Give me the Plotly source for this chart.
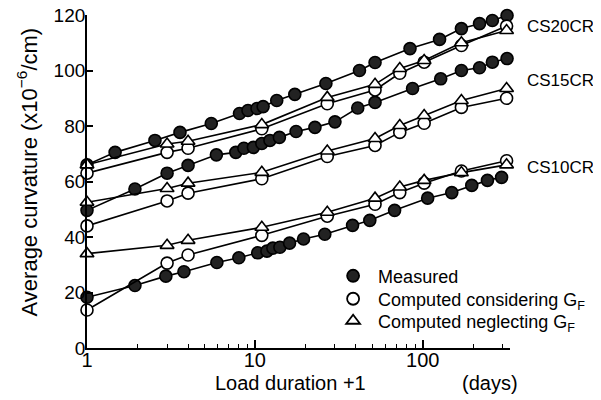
import plotly.graph_objects as go

# ---- data (time = load duration + 1, days) ----
t_comp = [1, 3, 4, 11, 27, 52, 73, 102, 170, 316]

# CS20CR
t_m20 = [1, 1.47, 2.54, 3.58, 5.5, 8.1, 9.1, 10.3, 11.2, 13.5, 17.3, 26.5, 42, 52, 84, 126, 170, 218, 260, 318]
m20 = [66, 70.5, 74.8, 77.7, 80.9, 84.5, 85.6, 86.3, 87, 89.2, 91.4, 95.3, 100, 102.9, 107.9, 111.2, 115.1, 116.9, 118, 119.8]
c20 = [63, 70.5, 72, 79, 88, 93, 99, 103, 109, 116]
n20 = [66, 73.5, 74.5, 80.5, 90.3, 95, 100.7, 103.6, 110, 114.4]

# CS15CR
t_m15 = [1, 1.93, 3.0, 4.0, 5.9, 7.7, 8.6, 9.8, 11.0, 12.3, 14.0, 17.6, 22.8, 30.0, 41.0, 52, 87, 128, 170, 218, 260, 318]
m15 = [49.6, 57.3, 63, 65.8, 69.6, 70.5, 72, 72.3, 73.7, 74.8, 75.9, 78, 79.5, 81.5, 86.5, 88.5, 93.5, 97, 100, 101, 103, 104.3]
c15 = [44, 53, 55.8, 61, 69, 73, 77.7, 81, 86.7, 90]
n15 = [52.5, 57.5, 59.4, 63.3, 71, 75.5, 80.2, 83.8, 89.2, 93.5]

# CS10CR
t_m10 = [1, 1.93, 2.95, 3.78, 5.94, 8.03, 10.4, 11.8, 12.8, 14.1, 16.1, 19.5, 26.1, 38.2, 48.4, 68, 107, 149, 196, 243, 295]
m10 = [18.3, 22.5, 25.9, 27.5, 30.8, 32.5, 34.3, 34.9, 36, 36.3, 37.8, 39.3, 41, 44.2, 46, 49.6, 54, 56, 58.6, 60.4, 61.5]
c10 = [13.7, 30.6, 33.5, 40.6, 47.5, 51.8, 56, 59.4, 63.8, 67.5]
n10 = [34, 37, 38.8, 43.5, 48.9, 54, 58, 60.4, 63.2, 66]

series_labels = ["CS20CR", "CS15CR", "CS10CR"]
label_y = [116, 96.5, 65]
legend_names = ["Measured", "Computed considering G<sub>F</sub>", "Computed neglecting G<sub>F</sub>"]

y_ticks = [0, 20, 40, 60, 80, 100, 120]
x_ticks = [1, 10, 100]
x_minor = [2, 3, 4, 5, 6, 7, 8, 9, 20, 30, 40, 50, 60, 70, 80, 90, 200, 300]

FONT = "Liberation Sans, Arial, Helvetica, sans-serif"
BLK = "black"
DARK = "#222222"

fig = go.Figure()

def add(x, y, symbol, fill):
    fig.add_trace(go.Scatter(
        x=x, y=y, mode="lines+markers", showlegend=False, cliponaxis=False,
        line=dict(color=BLK, width=1.6),
        marker=dict(symbol=symbol, size=12, color=fill, line=dict(color=BLK, width=1.6)),
    ))

for tm, m in ((t_m20, m20), (t_m15, m15), (t_m10, m10)):
    add(tm, m, "circle", DARK)
for c in (c20, c15, c10):
    add(t_comp, c, "circle", "white")
for n in (n20, n15, n10):
    add(t_comp, n, "triangle-up", "white")

# legend entries, one legend box per row for exact spacing
legend_ids = ["legend", "legend2", "legend3"]
legend_y = [0.216, 0.147, 0.081]
for name, sym, fill, lid in zip(legend_names, ["circle", "circle", "triangle-up"], [DARK, "white", "white"], legend_ids):
    fig.add_trace(go.Scatter(
        x=[None], y=[None], mode="markers", name=name, legend=lid,
        marker=dict(symbol=sym, size=12, color=fill, line=dict(color=BLK, width=1.8)),
    ))

annotations = []
for lab, yv in zip(series_labels, label_y):
    annotations.append(dict(text=lab, xref="paper", yref="y", x=1.035, y=yv,
                            xanchor="left", yanchor="middle", showarrow=False,
                            font=dict(size=17, color=BLK, family=FONT)))
annotations.append(dict(text="Load duration +1", xref="paper", yref="paper", x=0.48, y=-0.105,
                        xanchor="center", yanchor="middle", showarrow=False,
                        font=dict(size=20, color=BLK, family=FONT)))
annotations.append(dict(text="(days)", xref="paper", yref="paper", x=0.953, y=-0.105,
                        xanchor="center", yanchor="middle", showarrow=False,
                        font=dict(size=20, color=BLK, family=FONT)))
annotations.append(dict(text="Average curvature (x10<sup>−6</sup>/cm)", xref="paper", yref="paper",
                        x=-0.142, y=0.53, textangle=-90, xanchor="center", yanchor="middle",
                        showarrow=False, font=dict(size=22, color=BLK, family=FONT)))

legend_common = dict(xanchor="left", yanchor="middle", bgcolor="rgba(0,0,0,0)",
                     font=dict(size=18, family=FONT, color=BLK), itemwidth=40)

fig.update_layout(
    width=593, height=392,
    margin=dict(l=79, r=91, t=7, b=52, autoexpand=False),
    paper_bgcolor="white", plot_bgcolor="white",
    font=dict(family=FONT, color=BLK, size=18),
    annotations=annotations,
    legend=dict(x=0.57, y=legend_y[0], **legend_common),
    legend2=dict(x=0.57, y=legend_y[1], **legend_common),
    legend3=dict(x=0.57, y=legend_y[2], **legend_common),
    xaxis=dict(type="log", range=[0, 2.52], showgrid=False, zeroline=False, automargin=False,
               showline=True, linecolor=BLK, linewidth=1.8,
               tickvals=x_ticks, ticktext=[str(v) for v in x_ticks],
               ticks="inside", ticklen=8, tickwidth=1.5, tickcolor=BLK,
               ticklabelstandoff=-7, ticklabeloverflow="allow",
               tickfont=dict(size=20, family=FONT, color=BLK),
               minor=dict(tickvals=x_minor, ticks="inside", ticklen=4, tickwidth=1.3, tickcolor=BLK, showgrid=False)),
    yaxis=dict(range=[0, 120], showgrid=False, zeroline=False, automargin=False,
               showline=True, linecolor=BLK, linewidth=1.8,
               tickvals=y_ticks, ticks="inside", ticklen=6, tickwidth=1.5, tickcolor=BLK,
               ticklabelstandoff=-4, ticklabeloverflow="allow",
               tickfont=dict(size=19, family=FONT, color=BLK)),
)

fig.write_html("out.html")
